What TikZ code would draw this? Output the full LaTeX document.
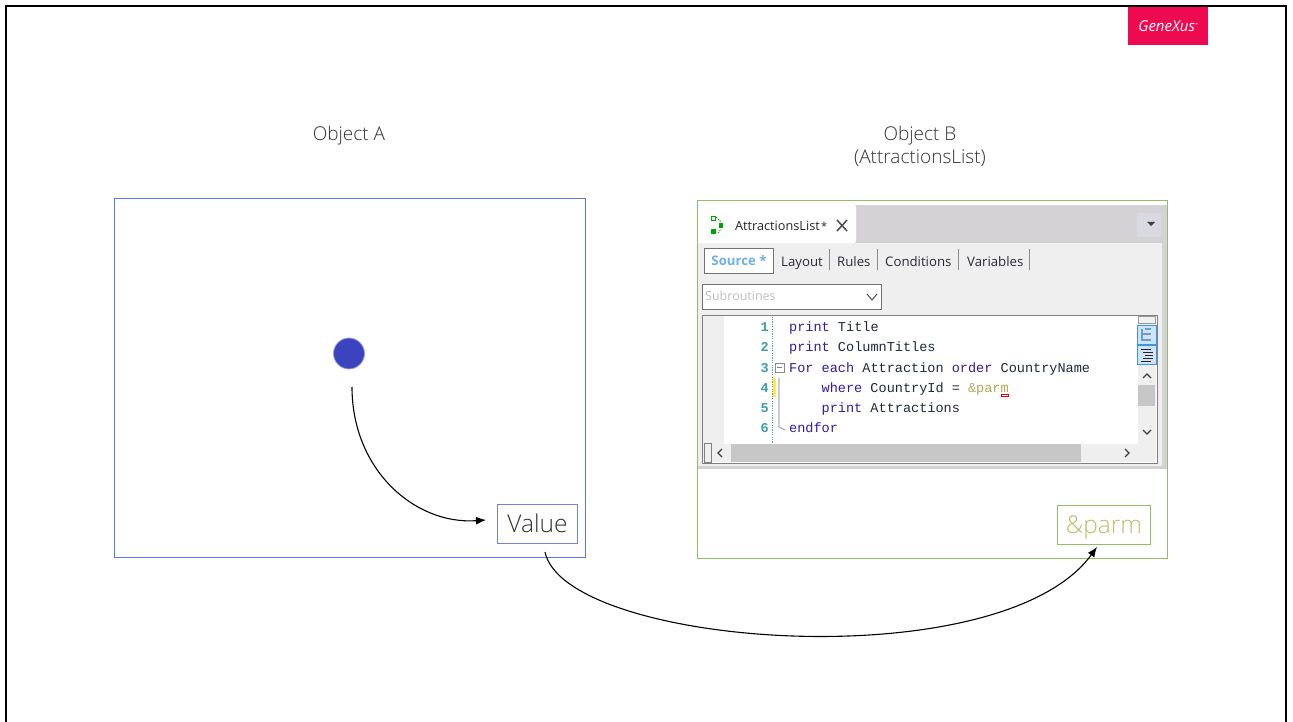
\documentclass[tikz,border=0pt]{standalone}
\usepackage{fontspec}
\setmainfont{Open Sans}
\newfontfamily\lightf{Open Sans Light}
\newfontfamily\uif{Open Sans}
\newfontfamily\codef{Liberation Mono}
\usetikzlibrary{arrows.meta}
\definecolor{objablue}{RGB}{85,125,225}
\definecolor{valbox}{HTML}{7480DC}
\definecolor{greenbox}{HTML}{8CC168}
\definecolor{parmc}{HTML}{C4BC66}
\definecolor{dotc}{HTML}{3B43BE}
\definecolor{gx}{HTML}{EE0A50}
\definecolor{tabbg}{HTML}{D4D2D5}
\definecolor{tabbtn}{HTML}{D9DAE1}
\definecolor{panel}{HTML}{EFEFEF}
\definecolor{kw}{HTML}{2E1F9E}
\definecolor{idc}{HTML}{1F2A3A}
\definecolor{lnum}{HTML}{3F9EA6}
\definecolor{uitxt}{HTML}{2A2A3A}
\definecolor{srcblue}{HTML}{6FB0E2}
\definecolor{btnline}{HTML}{3A96E2}
\definecolor{btnfill}{HTML}{CFE3F7}
\definecolor{btnicon}{HTML}{6F9CC8}
\tikzset{
  px/.style={x=1pt,y=-1pt},
  title/.style={font=\lightf\fontsize{19}{23}\selectfont,text=black!80,align=center,inner sep=0pt},
  bigbox/.style={draw,line width=1pt,fill=white,inner sep=0pt,anchor=north west},
  tablabel/.style={font=\uif\fontsize{13.2}{15}\selectfont,text=uitxt,inner sep=0pt,anchor=base west},
  code/.style={font=\codef\fontsize{13.55}{15}\selectfont,inner sep=0pt,anchor=base west,text=idc},
  num/.style={font=\codef\bfseries\fontsize{13.5}{15}\selectfont,inner sep=0pt,anchor=base east,text=lnum},
  conn/.style={line width=1.1pt,-{Latex[length=10pt,width=8pt]}},
  sep/.style={draw=black!45,line width=1pt},
  varbox/.style={draw,line width=1pt,fill=white,inner sep=0pt,minimum height=39pt,text height=17pt,text depth=-1pt,font=\lightf\fontsize{24.5}{27}\selectfont}
}
\begin{document}
\begin{tikzpicture}[px]
\useasboundingbox (0,0) rectangle (1293,722);
% slide frame
\draw[line width=2.2pt,black] (6,730) -- (6,6) -- (1286,6) -- (1286,730);
% logo
\node[fill=gx,minimum width=80pt,minimum height=38pt,inner sep=0pt,anchor=north west,
      font=\uif\itshape\fontsize{15}{16}\selectfont,text=white] (logo) at (1128,7) {GeneXus\raisebox{5pt}{\fontsize{4}{4}\selectfont ™}};
% titles
\node[title] (ta) at (349,136) {Object A};
\node[title] (tb) at (920,146) {Object B\\[0pt](AttractionsList)};
% Object A
\node[bigbox,draw=objablue,minimum width=471pt,minimum height=359pt] (boxa) at (113.5,198) {};
\node[circle,fill=dotc,draw=dotc!50!white,line width=.8pt,minimum size=31pt,inner sep=0pt] (dot) at (349,353.5) {};
\node[varbox,draw=valbox,minimum width=80pt,text=black!80] (val) at (537.5,523.5) {Value};
% Object B
\node[bigbox,draw=greenbox,minimum width=470.5pt,minimum height=358pt] (boxb) at (696.5,200) {};
\fill[tabbg] (698,205) rectangle (1167,469);
\fill[panel] (698,243) rectangle (1162,466);
\fill[white] (698,205) [rounded corners=2pt] -- (856,205) -- (856,243) -- (698,243) -- cycle;
\fill[white] (698,208) rectangle (700,243);
\fill[tabbtn] (1137,213) rectangle (1161,237);
\fill[black!75] (1147,222) -- (1155,222) -- (1151,226) -- cycle;
% tab icon
\fill[green!65!black] (711,229) rectangle (716,234);
\fill[green!65!black] (719,223) rectangle (723,228);
\draw[green!65!black,line width=.9pt] (711,216) rectangle (715,220);
\draw[green!55!black,line width=.7pt,dash pattern=on 1.5pt off 1pt] (716,217) -- (721,222) (718,233) -- (721,229);
\node[font=\uif\fontsize{12.7}{15}\selectfont,text=black!85,inner sep=0pt,anchor=base west] (tabname) at (735,231) {AttractionsList};
\node[font=\uif\fontsize{11}{15}\selectfont,text=black!85,inner sep=0pt,anchor=base west] (tabstar) at (821,230) {*};
\draw[black!70,line width=1.5pt] (837,220) -- (847,231) (847,220) -- (837,231);
% subtabs
\node[draw=black!55,line width=1pt,fill=white,minimum width=69pt,minimum height=25pt,inner sep=0pt,anchor=north west,
      font=\uif\bfseries\fontsize{13.2}{15}\selectfont,text=srcblue] (src) at (704,247.5) {Source *};
\node[tablabel] (t1) at (781,266) {Layout};
\draw[sep] (829,249) -- (829,270);
\node[tablabel] (t2) at (837,266) {Rules};
\draw[sep] (877,249) -- (877,270);
\node[tablabel] (t3) at (885,266) {Conditions};
\draw[sep] (958,249) -- (958,270);
\node[tablabel] (t4) at (967,266) {Variables};
\draw[sep] (1029,249) -- (1029,270);
% combo
\node[draw=black!55,line width=1pt,fill=white,minimum width=179pt,minimum height=25pt,inner sep=0pt,anchor=north west] (combo) at (702,283.5) {};
\node[font=\uif\fontsize{12.5}{15}\selectfont,text=black!25,inner sep=0pt,anchor=base west] (sub) at (705,300) {Subroutines};
\draw[black!70,line width=1pt] (867,294) -- (872,300) -- (877,294);
% editor
\node[draw=black!50,line width=1pt,fill=white,minimum width=455pt,minimum height=148pt,inner sep=0pt,anchor=north west] (ed) at (701.5,315) {};
\fill[panel] (702.5,316) rectangle (724,444);
\fill[panel] (1138,316) rectangle (1156,462);
\fill[panel] (702.5,444) rectangle (1156,462);
\fill[black!22] (731,444) rectangle (1081,462);
\draw[black!50,line width=1pt,fill=panel] (704,443) rectangle (711,462);
\draw[black!75,line width=1.3pt] (722,449) -- (718,453) -- (722,457) (1125,449) -- (1129,453) -- (1125,457);
\fill[black!22] (1138,385) rectangle (1155,406);
\draw[black!75,line width=1.3pt] (1143,378) -- (1147,374) -- (1151,378) (1143,430) -- (1147,434) -- (1151,430);
\draw[black!40,fill=black!6] (1138,316.5) rectangle (1155,323);
% margin
\draw[teal!70,line width=1pt,dash pattern=on 1.2pt off 1.2pt] (772,316.5) -- (772,443);
\fill[yellow!85!orange!70] (773,378) rectangle (776,397);
\draw[black!45,line width=.7pt,fill=white] (775,363) rectangle (784,372);
\draw[black!50,line width=.7pt] (777,367.5) -- (782,367.5);
\draw[black!30,line width=1.2pt] (779,378) -- (779,427) -- (785,430);
% line numbers
\node[num] (n1) at (769,331) {1};
\node[num] (n2) at (769,351) {2};
\node[num] (n3) at (769,372) {3};
\node[num] (n4) at (769,392) {4};
\node[num] (n5) at (769,412) {5};
\node[num] (n6) at (769,432) {6};
% code
\node[code] (c1) at (789,331) {\textcolor{kw}{print} Title};
\node[code] (c2) at (789,351) {\textcolor{kw}{print} ColumnTitles};
\node[code] (c3) at (789,372) {\textcolor{kw}{For each} Attraction \textcolor{kw}{order} CountryName};
\node[code] (c4) at (821.5,392) {\textcolor{kw}{where} CountryId = \textcolor{parmc!90!black}{\&parm}};
\node[code] (c5) at (821.5,412) {\textcolor{kw}{print} Attractions};
\node[code] (c6) at (789,432) {\textcolor{kw}{endfor}};
\draw[red!90!black,line width=1pt] (1001,394.5) rectangle (1008,396.5);
% tool buttons
\draw[btnline,line width=1pt,fill=btnfill] (1137,325) rectangle (1156,344);
\draw[btnline,line width=1pt,fill=btnfill] (1137,345) rectangle (1156,364);
\draw[btnicon,line width=1.1pt] (1142,329) -- (1142,340) -- (1151,340) (1142,334) -- (1151,334) (1145,329) -- (1151,329);
\draw[black!85,line width=1pt] (1141,349) -- (1151,349) (1143,352) -- (1153,352) (1145,355) -- (1153,355) (1143,358) -- (1153,358) (1141,361) -- (1151,361);
% parm
\node[varbox,draw=greenbox,minimum width=93pt,text=parmc] (parm) at (1104,525) {\&parm};
% connectors
\coordinate (s1) at (352,387);
\coordinate (e1) at (486,520);
\coordinate (s2) at (545,552);
\coordinate (e2) at (1097,547);
\draw[conn] (s1) .. controls (352,470) and (415,525) .. (e1);
\draw[conn] (s2) .. controls (565,647) and (1000,680) .. (e2);
\end{tikzpicture}
\end{document}
